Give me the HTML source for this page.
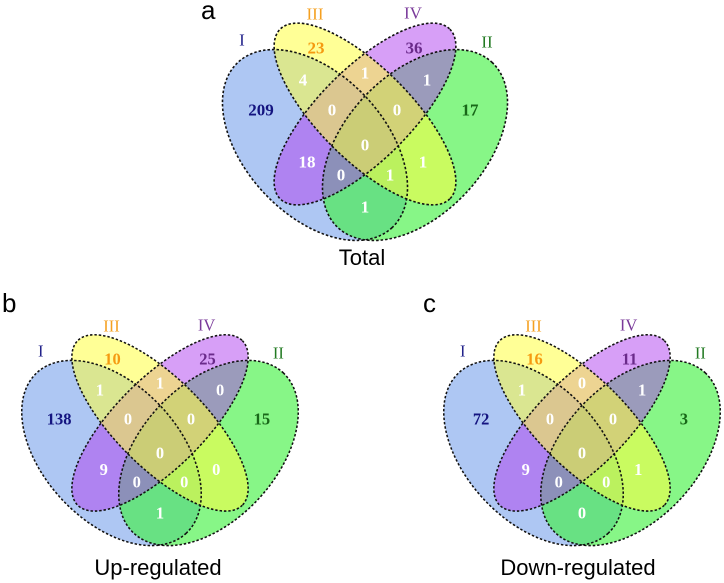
<!DOCTYPE html>
<html><head><meta charset="utf-8"><style>
html,body{margin:0;padding:0;background:#fff;}
svg{display:block;}
.n{font-family:"Liberation Serif",serif;font-weight:bold;font-size:17px;text-anchor:middle;dominant-baseline:central;}
.w{fill:#fff;}
.r{font-family:"Liberation Serif",serif;font-size:17px;text-anchor:middle;dominant-baseline:central;}
.s{font-family:"Liberation Sans",sans-serif;}
</style></head><body>
<svg width="724" height="583" viewBox="0 0 724 583" xmlns="http://www.w3.org/2000/svg">
<defs>
<g id="ell">
  <ellipse cx="-50" cy="0" rx="113" ry="70" transform="rotate(47 -50 0)" fill="#8fb2ee" fill-opacity="0.72"/>
  <ellipse cx="50" cy="0" rx="113" ry="70" transform="rotate(-47 50 0)" fill="#3ef03e" fill-opacity="0.62"/>
  <ellipse cx="0" cy="-31" rx="120" ry="46" transform="rotate(-45 0 -31)" fill="#b040f0" fill-opacity="0.5"/>
  <ellipse cx="0" cy="-31" rx="120" ry="46" transform="rotate(45 0 -31)" fill="#ffff40" fill-opacity="0.55"/>
  <g fill="none" stroke="#111" stroke-width="1.6" stroke-dasharray="2.5 2">
  <ellipse cx="-50" cy="0" rx="113" ry="70" transform="rotate(47 -50 0)"/>
  <ellipse cx="50" cy="0" rx="113" ry="70" transform="rotate(-47 50 0)"/>
  <ellipse cx="0" cy="-31" rx="120" ry="46" transform="rotate(45 0 -31)"/>
  <ellipse cx="0" cy="-31" rx="120" ry="46" transform="rotate(-45 0 -31)"/>
  </g>
  <text class="r" x="-123" y="-105" fill="#22228a">I</text>
  <text class="r" x="-50" y="-131" fill="#f5a020">III</text>
  <text class="r" x="48" y="-132" fill="#7a3a9a">IV</text>
  <text class="r" x="122" y="-103" fill="#227a22">II</text>
</g>
</defs>

<text class="s" x="201" y="19" font-size="26">a</text>
<g transform="translate(365,145)">
  <use href="#ell"/>
  <text class="n" x="-104" y="-35" fill="#141480">209</text>
  <text class="n" x="-49" y="-97" fill="#f59a10">23</text>
  <text class="n" x="49" y="-97" fill="#6a2a8a">36</text>
  <text class="n" x="105" y="-35" fill="#186818">17</text>
  <text class="n w" x="-62" y="-65">4</text>
  <text class="n w" x="0" y="-72">1</text>
  <text class="n w" x="62" y="-65">1</text>
  <text class="n w" x="-33" y="-35">0</text>
  <text class="n w" x="32" y="-35">0</text>
  <text class="n w" x="0" y="0">0</text>
  <text class="n w" x="-58" y="17">18</text>
  <text class="n w" x="-24" y="30">0</text>
  <text class="n w" x="25" y="30">1</text>
  <text class="n w" x="58" y="17">1</text>
  <text class="n w" x="0" y="62">1</text>
</g>
<text class="s" x="362" y="265" font-size="22" text-anchor="middle">Total</text>

<text class="s" x="2" y="312" font-size="26">b</text>
<g transform="translate(160,453) scale(0.97)">
  <use href="#ell"/>
  <text class="n" x="-104" y="-35" fill="#141480">138</text>
  <text class="n" x="-49" y="-97" fill="#f59a10">10</text>
  <text class="n" x="49" y="-97" fill="#6a2a8a">25</text>
  <text class="n" x="105" y="-35" fill="#186818">15</text>
  <text class="n w" x="-62" y="-65">1</text>
  <text class="n w" x="0" y="-72">1</text>
  <text class="n w" x="62" y="-65">0</text>
  <text class="n w" x="-33" y="-35">0</text>
  <text class="n w" x="32" y="-35">0</text>
  <text class="n w" x="0" y="0">0</text>
  <text class="n w" x="-58" y="17">9</text>
  <text class="n w" x="-24" y="30">0</text>
  <text class="n w" x="25" y="30">0</text>
  <text class="n w" x="58" y="17">0</text>
  <text class="n w" x="0" y="62">1</text>
</g>
<text class="s" x="158" y="575" font-size="22" text-anchor="middle">Up-regulated</text>

<text class="s" x="423" y="312" font-size="26">c</text>
<g transform="translate(582,453) scale(0.97)">
  <use href="#ell"/>
  <text class="n" x="-104" y="-35" fill="#141480">72</text>
  <text class="n" x="-49" y="-97" fill="#f59a10">16</text>
  <text class="n" x="49" y="-97" fill="#6a2a8a">11</text>
  <text class="n" x="105" y="-35" fill="#186818">3</text>
  <text class="n w" x="-62" y="-65">1</text>
  <text class="n w" x="0" y="-72">0</text>
  <text class="n w" x="62" y="-65">1</text>
  <text class="n w" x="-33" y="-35">0</text>
  <text class="n w" x="32" y="-35">0</text>
  <text class="n w" x="0" y="0">0</text>
  <text class="n w" x="-58" y="17">9</text>
  <text class="n w" x="-24" y="30">0</text>
  <text class="n w" x="25" y="30">0</text>
  <text class="n w" x="58" y="17">1</text>
  <text class="n w" x="0" y="62">0</text>
</g>
<text class="s" x="578" y="575" font-size="22" text-anchor="middle">Down-regulated</text>
</svg>
</body></html>
